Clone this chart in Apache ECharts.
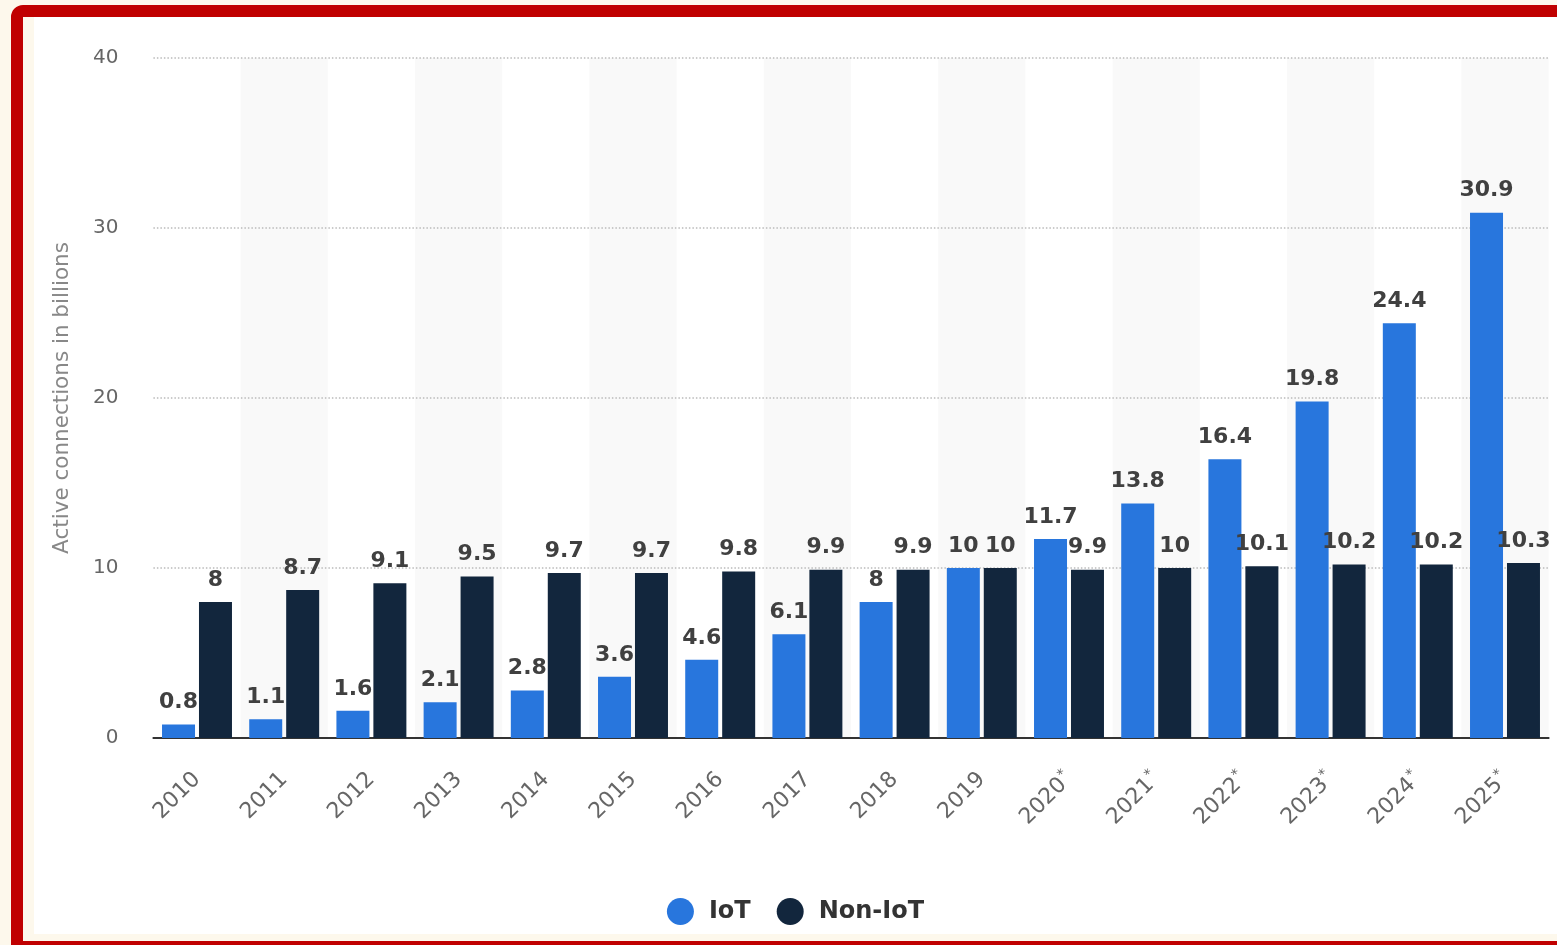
<!DOCTYPE html>
<html>
<head>
<meta charset="utf-8">
<script src="https://cdn.jsdelivr.net/npm/echarts@6/dist/echarts.min.js"></script>
<style>
  html, body { margin: 0; padding: 0; width: 1557px; height: 945px; overflow: hidden; background: #fdf8ec; }
  #frame { position: absolute; left: 11px; top: 5px; width: 1600px; height: 948px; box-sizing: border-box;
           border: 12px solid #c00000; border-top-left-radius: 12px; background: #fdf8ec; }
  #chart { position: absolute; left: 34px; top: 17px; width: 1523px; height: 917px; background: #ffffff; }
</style>
</head>
<body>
<div id="frame"></div>
<div id="chart"></div>
<script>
const categories = ['2010','2011','2012','2013','2014','2015','2016','2017','2018','2019','2020*','2021*','2022*','2023*','2024*','2025*'];
const iotValues = [0.8, 1.1, 1.6, 2.1, 2.8, 3.6, 4.6, 6.1, 8, 10, 11.7, 13.8, 16.4, 19.8, 24.4, 30.9];
const nonIotValues = [8, 8.7, 9.1, 9.5, 9.7, 9.7, 9.8, 9.9, 9.9, 10, 9.9, 10, 10.1, 10.2, 10.2, 10.3];
const yTicks = [0, 10, 20, 30, 40];
const seriesNames = ['IoT', 'Non-IoT'];
const yAxisTitle = 'Active connections in billions';

const chart = echarts.init(document.getElementById('chart'));
const labelStyle = {
  show: true, position: 'top', distance: 11,
  fontFamily: 'DejaVu Sans', fontWeight: 'bold', fontSize: 22, color: '#404040'
};
chart.setOption({
  animation: false,
  grid: { left: 119.4, right: 8.4, top: 41, bottom: 917 - 721 },
  legend: {
    data: seriesNames,
    left: 'center', top: 876,
    icon: 'circle', itemWidth: 27, itemHeight: 27, itemGap: 26,
    textStyle: { fontFamily: 'DejaVu Sans', fontWeight: 'bold', fontSize: 24, color: '#333333', padding: [0, 0, 0, 10] }
  },
  xAxis: {
    type: 'category',
    data: categories,
    z: 0,
    axisLine: { lineStyle: { color: '#333333', width: 2 } },
    axisTick: { show: false },
    splitArea: { show: true, areaStyle: { color: ['rgba(255,255,255,0)', '#f9f9f9'] } },
    axisLabel: {
      rotate: 45, margin: 38, interval: 0,
      fontFamily: 'DejaVu Sans', fontSize: 22, color: '#666666',
      formatter: function (v) {
        return v.indexOf('*') >= 0 ? '{a|' + v.replace('*', '') + '}{s|*}' : '{a|' + v + '}';
      },
      rich: {
        a: { fontFamily: 'DejaVu Sans', fontSize: 22, color: '#666666' },
        s: { fontFamily: 'DejaVu Sans', fontSize: 14, color: '#666666', verticalAlign: 'top', padding: [0, 0, 12, 1] }
      }
    }
  },
  yAxis: {
    type: 'value', min: yTicks[0], max: yTicks[yTicks.length - 1], interval: 10,
    z: 1,
    name: yAxisTitle, nameLocation: 'middle', nameGap: 80, nameRotate: 90,
    nameTextStyle: { fontFamily: 'DejaVu Sans', fontSize: 21.5, color: '#888888' },
    axisLine: { show: false }, axisTick: { show: false },
    axisLabel: { margin: 35, fontFamily: 'DejaVu Sans', fontSize: 20, color: '#666666', padding: [4, 0, 0, 0] },
    splitLine: { showMinLine: false, lineStyle: { color: '#bbbbbb', type: [1.5, 2], width: 1.5 } }
  },
  series: [
    { name: seriesNames[0], type: 'bar', data: iotValues, barWidth: 33, barGap: '12%', z: 2,
      itemStyle: { color: '#2876dd' }, label: labelStyle },
    { name: seriesNames[1], type: 'bar', data: nonIotValues, barWidth: 33, z: 2,
      itemStyle: { color: '#12263d' }, label: labelStyle }
  ]
});
</script>
</body>
</html>
